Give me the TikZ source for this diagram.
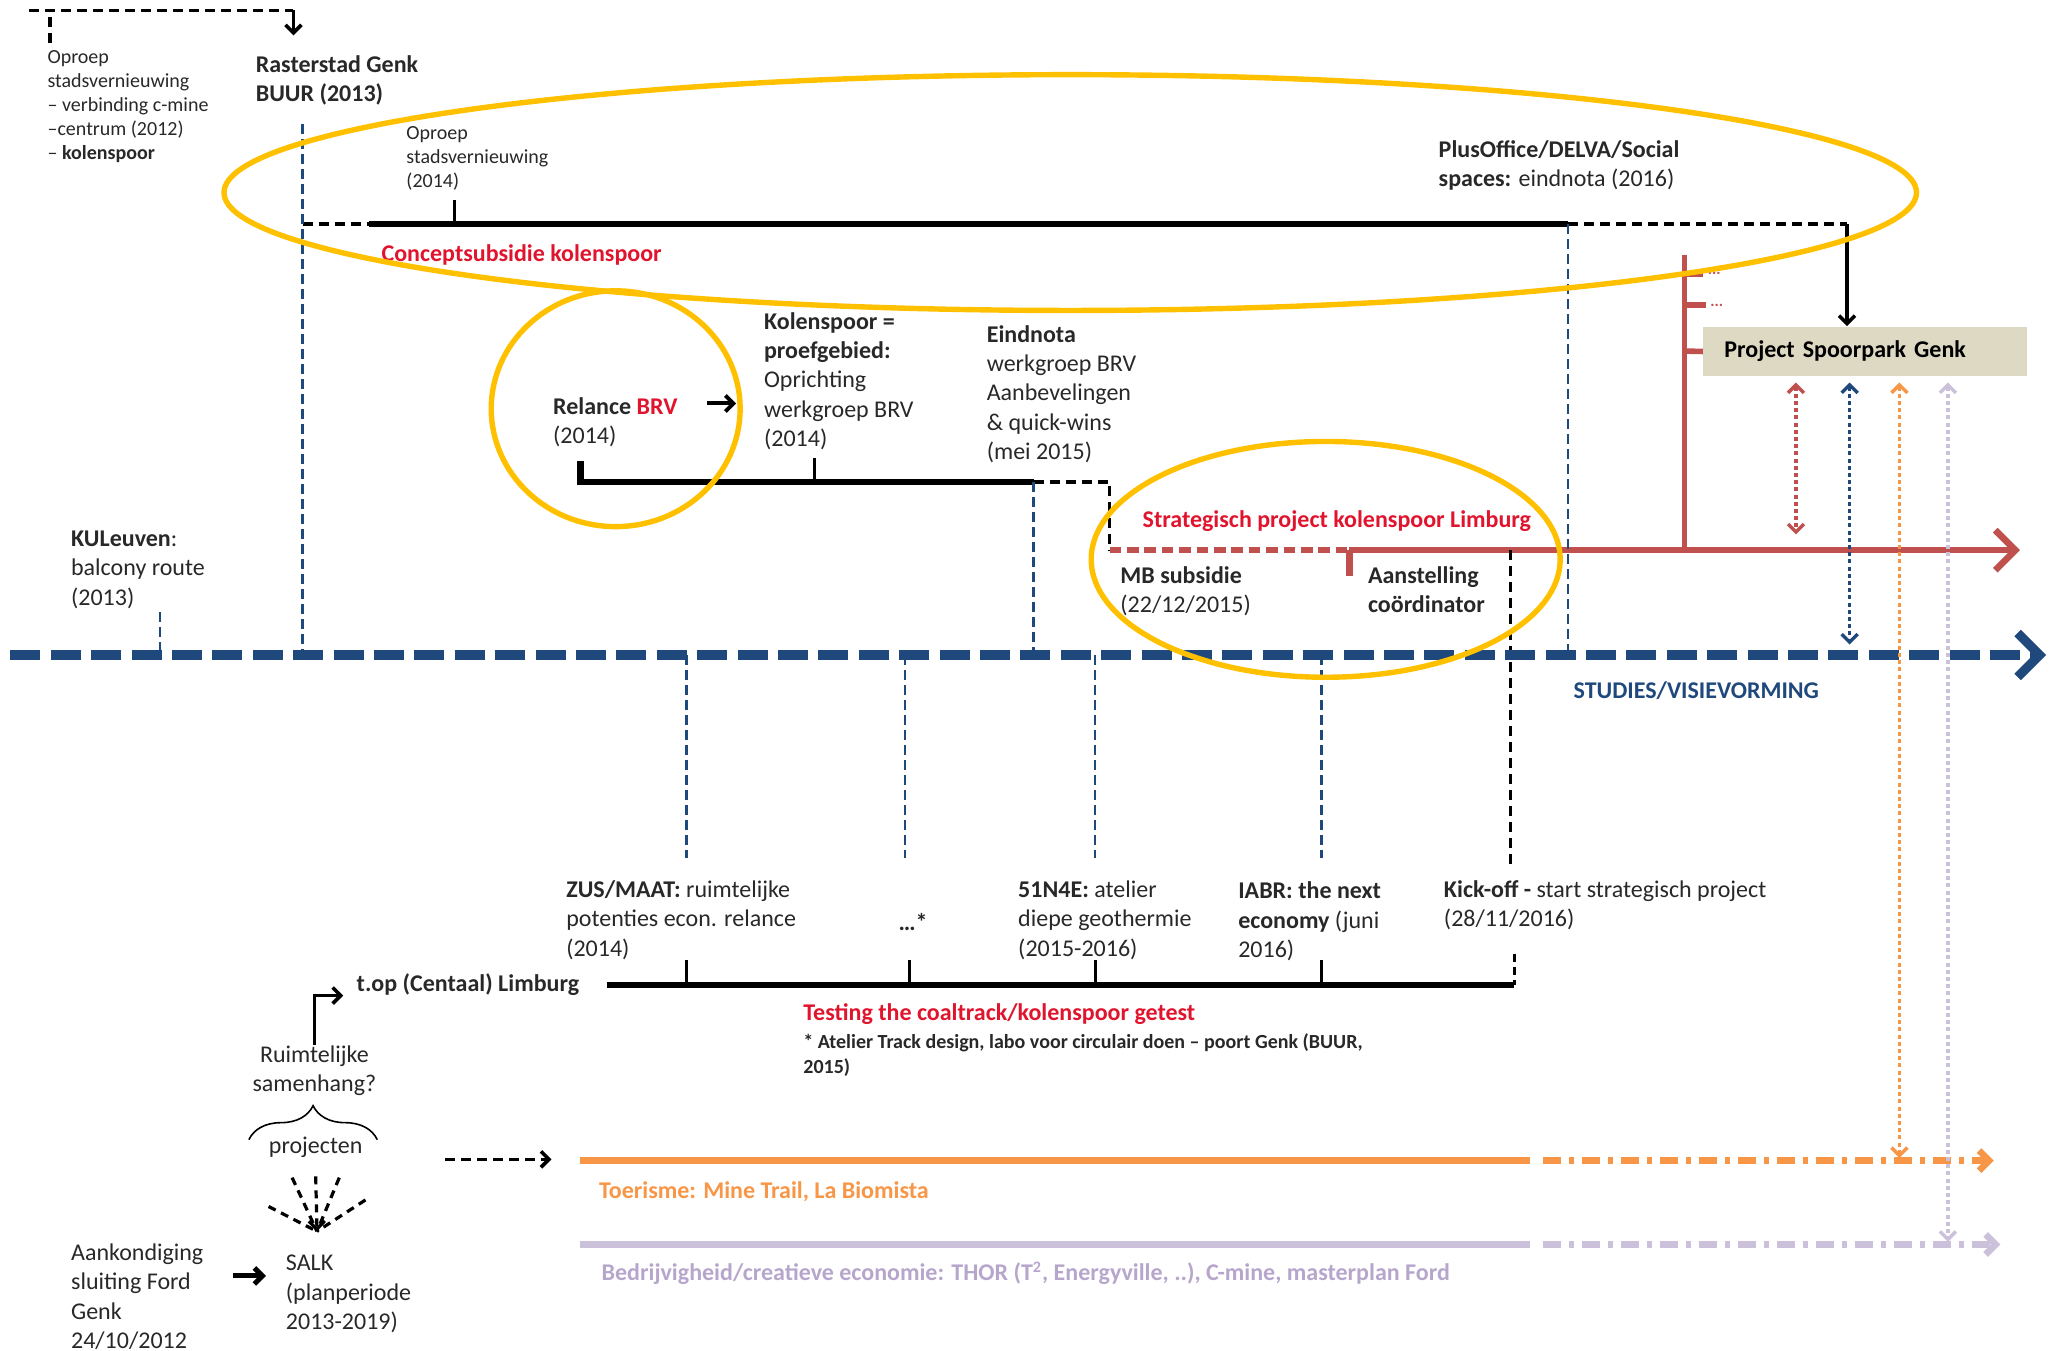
\documentclass[tikz,border=0pt]{standalone}
\usepackage{fontspec}
\setmainfont{Carlito}
\usetikzlibrary{arrows.meta,decorations.pathreplacing}
\definecolor{navy}{RGB}{31,73,125}
\definecolor{redline}{RGB}{192,80,77}
\definecolor{redtxt}{RGB}{225,20,45}
\definecolor{gold}{RGB}{255,192,0}
\definecolor{orangeline}{RGB}{247,150,70}
\definecolor{lavline}{RGB}{204,193,218}
\definecolor{lavtxt}{RGB}{182,166,204}
\definecolor{boxtan}{RGB}{221,217,195}
\definecolor{txtgray}{RGB}{40,40,40}

\tikzset{
  txt/.style={inner sep=0pt, align=left, text=txtgray, font=\fontsize{12}{14.7}\selectfont},
  smalltxt/.style={txt, font=\fontsize{10}{12.1}\selectfont},
  track/.style={line width=3.3pt},
  tick/.style={line width=1.6pt},
  navydash/.style={navy, line width=1.3pt, dash pattern=on 5pt off 2.5pt},
  blackdash/.style={black, line width=1.8pt, dash pattern=on 5pt off 3pt},
  barb/.style={-{Straight Barb[length=4pt,width=8pt]}},
  dashdot/.style={line width=3.3pt, dash pattern=on 9pt off 4pt on 2.5pt off 4pt},
  link/.style={line width=1.7pt, dash pattern=on 2pt off 1.6pt,
    {Straight Barb[length=4pt,width=8pt]}-{Straight Barb[length=4pt,width=8pt]}},
  ring/.style={gold, line width=2.7pt}
}

\begin{document}
\begin{tikzpicture}[x=0.655pt, y=-0.655pt]
\useasboundingbox (0,0) rectangle (1568,1031);

% Top left call
\node[smalltxt, anchor=north west] (oproep12) at (36,38) {Oproep\\stadsvernieuwing\\– verbinding c-mine\\–centrum (2012)\\– \textbf{kolenspoor}};
\node[txt, anchor=north west] (raster) at (195,42) {\textbf{Rasterstad Genk}\\\textbf{BUUR (2013)}};
\coordinate (tlA) at (22,8);
\coordinate (tlT) at (38,33);
\coordinate (tlB) at (224,8);
\coordinate (tlC) at (224,27);
\draw[blackdash] (tlA) -- (tlB);
\draw[blackdash] (tlT) -- (tlT |- tlA);
\draw[line width=1.8pt, barb] (tlB) -- (tlC);

% Conceptsubsidie track
\node[smalltxt, anchor=north west] (oproep14) at (310,96) {Oproep\\stadsvernieuwing\\ (2014)};
\node[txt, anchor=north west] (plus) at (1098,107) {\textbf{PlusOffice/DELVA/Social}\\\textbf{spaces:} eindnota (2016)};
\node[txt, anchor=west, text=redtxt] (concept) at (291,195) {\textbf{Conceptsubsidie kolenspoor}};
\coordinate (cA) at (231,171);
\coordinate (cB) at (282,171);
\coordinate (cC) at (1197,171);
\coordinate (cD) at (1410,171);
\coordinate (oT) at (347,153);
\draw[blackdash] (cA) -- (cB);
\draw[track] (cB) -- (cC);
\draw[blackdash] (cC) -- (cD);
\draw[tick] (oT) -- (oT |- cB);

% Project box
\node[fill=boxtan, anchor=north west, inner xsep=10.5pt, inner ysep=0pt, text width=141pt, minimum height=24.9pt, align=left, font=\fontsize{12}{14.7}\selectfont] (box) at (1300,249) {\textbf{Project Spoorpark Genk}};
\draw[line width=1.8pt, barb] (cD) -- (box.north -| cD);

% BRV track
\node[txt, anchor=north west] (relance) at (422,303) {\textbf{Relance {\color{redtxt}BRV}}\\(2014)};
\node[txt, anchor=north west] (proef) at (583,238) {\textbf{Kolenspoor =}\\\textbf{proefgebied:}\\Oprichting\\werkgroep BRV\\(2014)};
\node[txt, anchor=north west] (eind) at (753,248) {\textbf{Eindnota}\\werkgroep BRV\\Aanbevelingen\\\& quick-wins\\(mei 2015)};
\coordinate (arA) at (540,308);
\coordinate (arB) at (562,308);
\draw[line width=2pt, barb] (arA) -- (arB);
\coordinate (bT) at (443,352);
\coordinate (bA) at (443,368);
\coordinate (bM) at (622,350);
\coordinate (bB) at (789,368);
\coordinate (bC) at (847,368);
\coordinate (bD) at (847,420);
\draw[track] (bT) -- (bA) -- (bB);
\draw[tick] (bM) -- (bM |- bA);
\draw[blackdash] (bB) -- (bC) -- (bD);

% Strategic project (red)
\node[txt, anchor=west, text=redtxt] (strat) at (872,398) {\textbf{Strategisch project kolenspoor Limburg}};
\node[txt, anchor=north west] (mb) at (855,432) {\textbf{MB subsidie}\\(22/12/2015)};
\node[txt, anchor=north west] (aanst) at (1044,432) {\textbf{Aanstelling}\\\textbf{coördinator}};
\coordinate (rB) at (1030,420);
\coordinate (rT) at (1030,440);
\coordinate (rE) at (1542,420);
\coordinate (rV) at (1286,420);
\coordinate (rVt) at (1286,195);
\coordinate (r1) at (1286,209);
\coordinate (r2) at (1286,233);
\coordinate (r3) at (1286,268);
\draw[redline, track, dash pattern=on 5.8pt off 2.9pt] (bD) -- (rB);
\draw[redline, track, -{Straight Barb[length=10pt,width=20pt]}] (rB) -- (rE);
\draw[redline, track] (rT) -- (rB);
\draw[redline, line width=2.8pt] (rV) -- (rVt);
\draw[redline, line width=2.8pt] (r1) -- ++(14,0) node[right, inner sep=1pt, text=redline, font=\fontsize{8}{8}\selectfont\bfseries] (dots1) {...};
\draw[redline, line width=2.8pt] (r2) -- ++(16,0) node[right, inner sep=1pt, text=redline, font=\fontsize{8}{8}\selectfont\bfseries] (dots2) {...};
\draw[redline, line width=2.8pt] (r3) -- (box.west);

% Studies axis
\node[txt, anchor=north west] (ku) at (54,405) {\textbf{KULeuven}:\\balcony route\\(2013)};
\node[txt, anchor=west, text=navy] (studies) at (1201,527) {\textbf{STUDIES/VISIEVORMING}};
\coordinate (axL) at (8,500);
\coordinate (axR) at (1562,500);
\coordinate (kuT) at (122,467);
\coordinate (rasT) at (231,95);
\draw[navydash] (kuT) -- (kuT |- axL);
\draw[navydash] (rasT) -- (rasT |- axL);
\draw[navydash] (bB) -- (bB |- axL);
\draw[navydash] (cC) -- (cC |- axL);
\foreach \xd in {524,691,836,1009}
  \draw[navydash] (\xd,500) -- (\xd,655);
\coordinate (kA) at (1153,420);
\coordinate (kB) at (1153,660);
\draw[blackdash] (kA) -- (kB);
\draw[navy, line width=4.6pt, dash pattern=on 15pt off 5.2pt, -{Straight Barb[length=11pt,width=22pt]}] (axL) -- (axR);

% Testing track
\node[txt, anchor=north west] (zus) at (432,672) {\textbf{ZUS/MAAT:} ruimtelijke\\potenties econ. relance\\(2014)};
\node[txt] (etc) at (697,704) {\textbf{…*}};
\node[txt, anchor=north west] (n51) at (777,672) {\textbf{51N4E:} atelier\\diepe geothermie\\(2015-2016)};
\node[txt, anchor=north west] (iabr) at (945,673) {\textbf{IABR: the next}\\\textbf{economy} (juni\\2016)};
\node[txt, anchor=north west] (kick) at (1102,672) {\textbf{Kick-off -} start strategisch project\\(28/11/2016)};
\node[txt, anchor=west] (top) at (272,752) {\textbf{t.op (Centaal) Limburg}};
\node[txt, anchor=west, text=redtxt] (testing) at (613,774) {\textbf{Testing the coaltrack/kolenspoor getest}};
\node[smalltxt, anchor=north west] (atelier) at (613,789) {\textbf{* Atelier Track design, labo voor circulair doen – poort Genk (BUUR,}\\\textbf{2015)}};
\coordinate (tA) at (463,752);
\coordinate (tB) at (1156,752);
\coordinate (tK) at (1156,728);
\draw[track] (tA) -- (tB);
\foreach \xt in {524,694,836,1009}
  \draw[tick] (\xt,733) -- (\xt,752);
\draw[blackdash, line width=1.6pt, dash pattern=on 4pt off 2.5pt] (tK) -- (tB);

% SALK and projects
\node[txt, align=center, anchor=north] (ruimte) at (240,798) {Ruimtelijke\\samenhang?};
\node[txt] (proj) at (241,876) {projecten};
\node[txt, anchor=north west] (ford) at (54,949) {Aankondiging\\sluiting Ford\\Genk\\24/10/2012};
\node[txt, anchor=north west] (salk) at (218,958) {SALK\\(planperiode\\2013-2019)};
\coordinate (bend) at (240,760);
\coordinate (bendE) at (262,760);
\draw[line width=1.8pt, barb] (ruimte.north -| bend) -- (bend) -- (bendE);
\draw[decorate, decoration={brace, amplitude=17pt}, line width=0.8pt] (190,870) -- (288,870);
\coordinate (fan) at (242,940);
\foreach \fx/\fy in {223/899,259/899,205/921,279/916}
  \draw[blackdash, line width=1.6pt, dash pattern=on 4pt off 3pt] (\fx,\fy) -- (fan);
\draw[blackdash, line width=1.6pt, dash pattern=on 4pt off 3pt, -{Straight Barb[length=4pt,width=8pt]}] (241,898) -- (fan);
\coordinate (fA) at (178,974);
\coordinate (fB) at (203,974);
\draw[line width=2.5pt, -{Straight Barb[length=4pt,width=8pt]}] (fA) -- (fB);

% Tourism and business tracks
\coordinate (dA) at (340,885);
\coordinate (dB) at (421,885);
\draw[blackdash, barb] (dA) -- (dB);
\node[txt, anchor=west, text=orangeline] (toer) at (457,910) {\textbf{Toerisme: Mine Trail, La Biomista}};
\node[txt, anchor=west, text=lavtxt] (bedr) at (459,972) {\textbf{Bedrijvigheid/creatieve economie: THOR (T\textsuperscript{2}, Energyville, ..), C-mine, masterplan Ford}};
\coordinate (oA) at (443,886);
\coordinate (oB) at (1168,886);
\coordinate (oC) at (1178,886);
\coordinate (oE) at (1522,886);
\coordinate (lA) at (443,950);
\coordinate (lB) at (1168,950);
\coordinate (lC) at (1178,950);
\coordinate (lE) at (1527,950);
\draw[orangeline, track] (oA) -- (oB);
\draw[orangeline, dashdot, -{Straight Barb[length=5pt,width=10pt]}] (oC) -- (oE);
\draw[lavline, track] (lA) -- (lB);
\draw[lavline, dashdot, -{Straight Barb[length=5pt,width=10pt]}] (lC) -- (lE);

% Links to project box
\draw[link, redline] (1371,292) -- (1371,408);
\draw[link, navy] (1412,292) -- (1412,492);
\draw[link, orangeline] (1450,292) -- (1450,884);
\draw[link, lavline] (1487,292) -- (1487,948);

% Highlights
\draw[ring] (817,147) ellipse [x radius=646, y radius=90];
\draw[ring] (470,312) ellipse [x radius=95, y radius=90];
\draw[ring] (1012,427) ellipse [x radius=179, y radius=90];

\end{tikzpicture}
\end{document}
